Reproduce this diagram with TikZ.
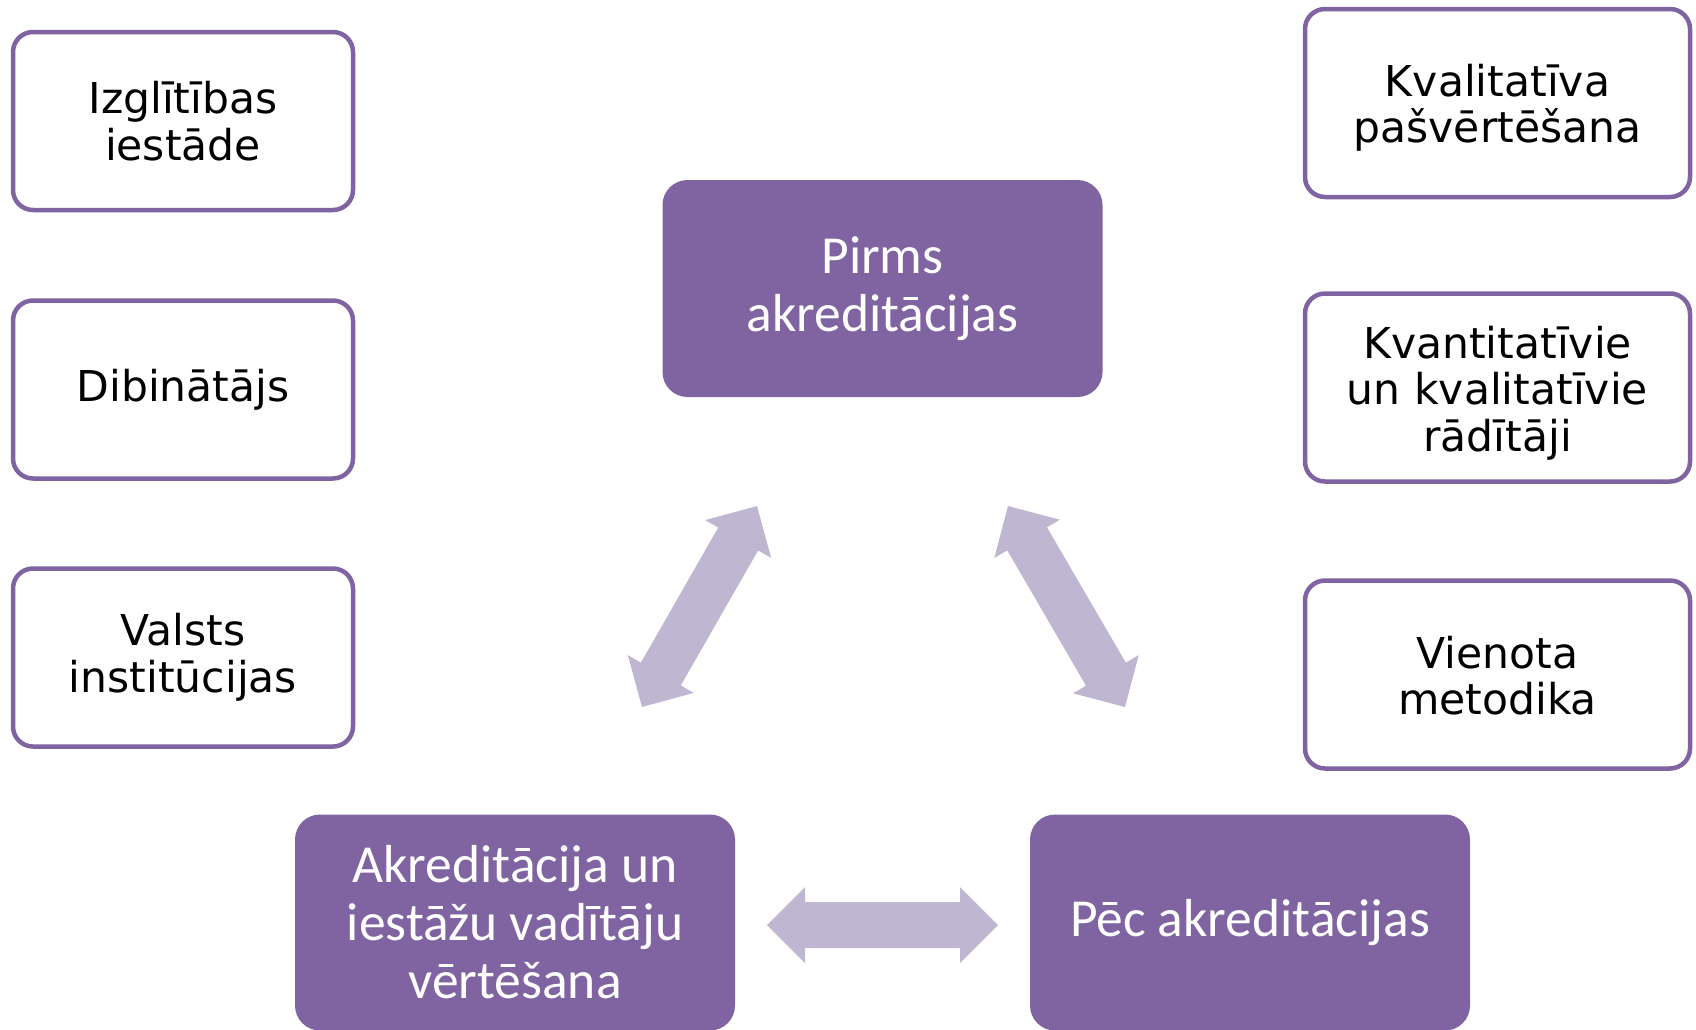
\documentclass[tikz,border=0pt]{standalone}
\usepackage{fontspec}
\newfontfamily\verdfont{DejaVu Sans}
\newfontfamily\califont{Carlito}
\definecolor{boxpurple}{HTML}{8064A2}
\definecolor{arrowlilac}{HTML}{BFB7D1}
\tikzset{
  outtext/.style={align=center, inner sep=0pt, font=\verdfont\fontsize{42.5}{46.5}\selectfont},
  outbox/.style={outtext, draw=boxpurple, line width=4.5pt, rounded corners=20pt, fill=white},
  leftbox/.style={outbox, minimum width=340pt, minimum height=178pt},
  rightbox/.style={outbox, minimum width=385pt, minimum height=188pt},
  phasebox/.style={fill=boxpurple, rounded corners=25pt, minimum width=440pt,
    minimum height=216pt, align=center, inner sep=0pt, text=white,
    font=\califont\fontsize{53.5}{58}\selectfont},
  pics/dblarr/.style={code={
    \fill[arrowlilac] (-#1,0) -- (-#1+38,38) -- (-#1+38,23) -- (#1-38,23) -- (#1-38,38)
      -- (#1,0) -- (#1-38,-38) -- (#1-38,-23) -- (-#1+38,-23) -- (-#1+38,-38) -- cycle;
  }}
}
\begin{document}
\begin{tikzpicture}[x=1pt,y=-1pt]
\useasboundingbox (0,0) rectangle (1696,1029);
% left outlined boxes
\node[leftbox] (izgl) at (183,121) {Izglītības\\iestāde};
\node[leftbox] (dib) at (183,389.5) {Dibinātājs};
\node[leftbox] (valsts) at (183,657.5) {Valsts\\institūcijas};
% right outlined boxes (frames, then their texts)
\node[rightbox] (kval) at (1497.5,103) {};
\node[outtext] (kvalT) at (1497.5,108) {Kvalitatīva\\pašvērtēšana};
\node[rightbox] (kvant) at (1497.5,387.5) {};
\node[outtext] (kvantT) at (1497.5,393) {Kvantitatīvie\\un kvalitatīvie\\rādītāji};
\node[rightbox] (vien) at (1497.5,674.5) {};
\node[outtext] (vienT) at (1497.5,675.5) {Vienota\\metodika};
% phase boxes
\node[phasebox, minimum height=217pt] (pirms) at (882.5,288.5) {Pirms\\akreditācijas};
\node[phasebox] (akr) at (515,922.5) {Akreditācija un\\iestāžu vadītāju\\vērtēšana};
\node[phasebox] (pec) at (1250,922.5) {Pēc akreditācijas};
% double arrows
\pic[rotate=60.2] (arrL) at (699.5,606.5) {dblarr=115.8};
\pic[rotate=-59.8] (arrR) at (1066.5,606.5) {dblarr=116.3};
\pic (arrH) at (882.5,925) {dblarr=115.5};
\end{tikzpicture}
\end{document}
